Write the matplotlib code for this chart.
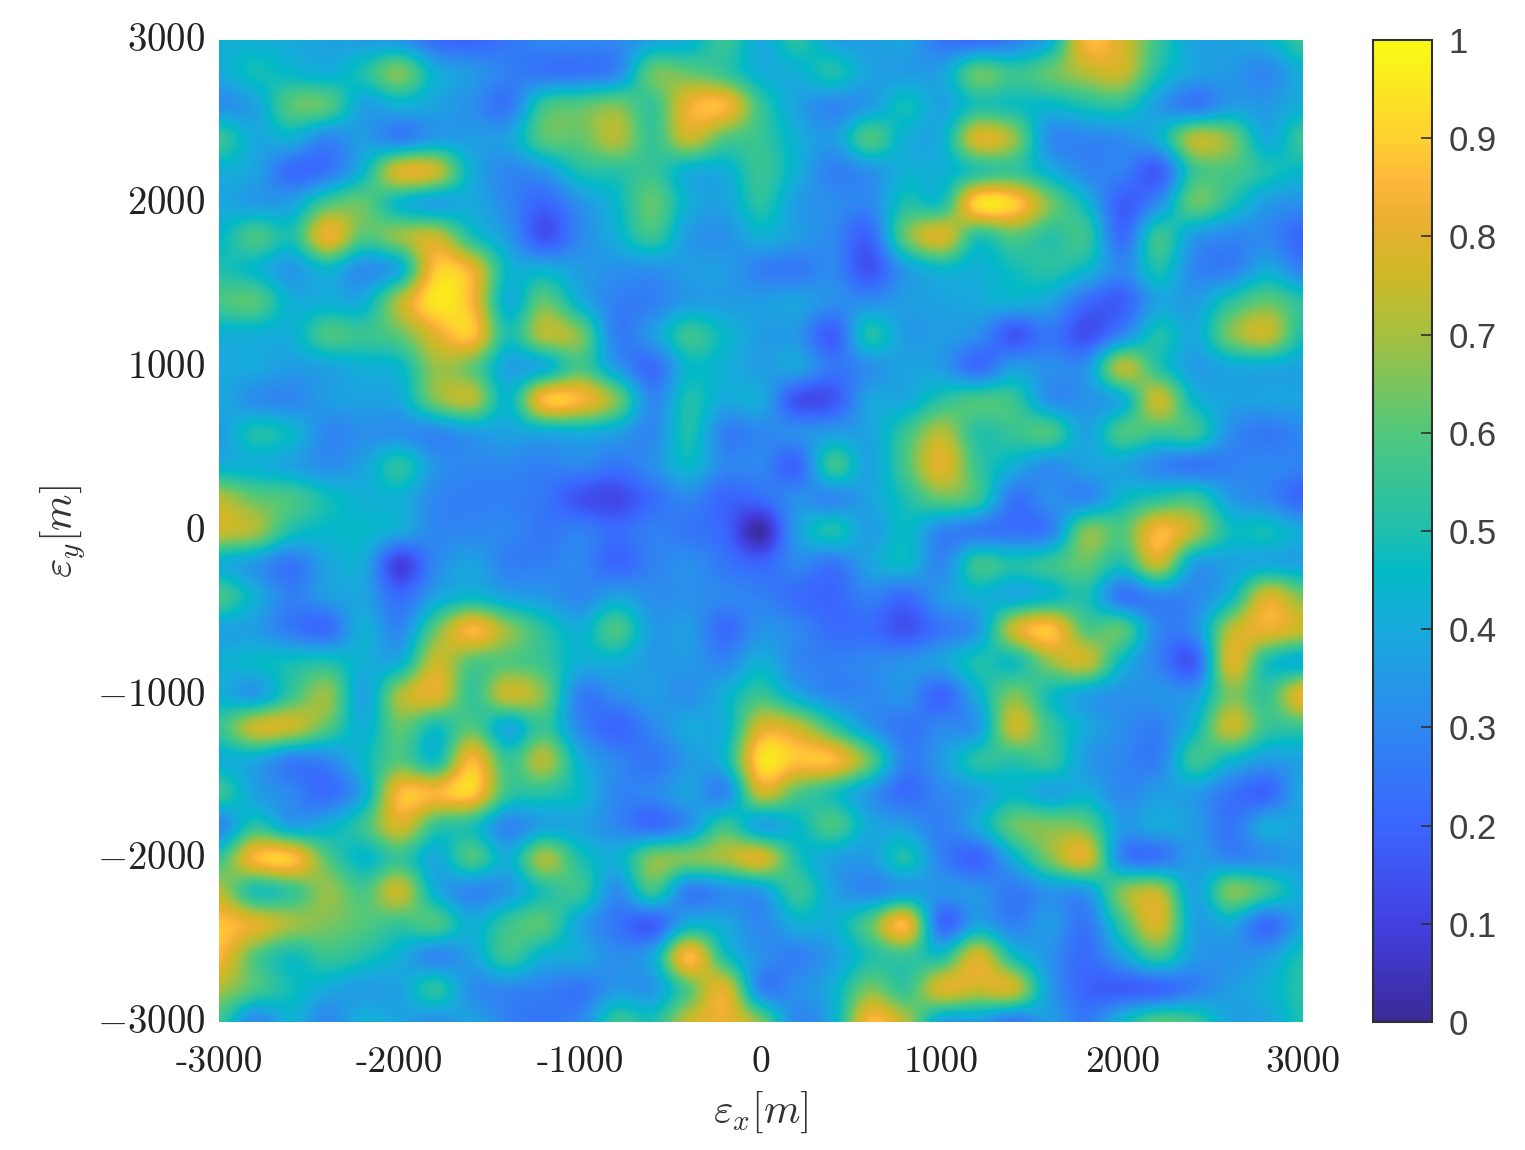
import numpy as np
import matplotlib
matplotlib.use("Agg")
import matplotlib.pyplot as plt
from matplotlib.colors import LinearSegmentedColormap
from matplotlib.transforms import ScaledTranslation

# values, in hundredths, on a 200 m grid, top row is y=3000
rows = [
[42,42,40,38,36,34,22,20,25,30,30,30,38,42,55, 40,52,38,36,38,25,22,28,42,85,78,55,38,38,42,55],
[40,48,45,42,50,65,42,35,28,25,25,30,62,62,55, 42,42,50,38,36,38,62,55,62,72,75,50,38,35,30,42],
[32,38,60,60,38,42,38,32,25,55,60,65,55,82,85, 55,38,30,36,48,38,50,48,45,50,52,36,26,36,35,42],
[55,40,42,30,36,28,36,36,38,60,62,72,55,75,60, 55,42,36,58,42,42,78,68,32,30,32,42,72,65,40,55],
[42,38,22,25,45,78,75,42,30,35,50,52,55,42,42, 55,42,28,33,42,42,52,55,42,30,28,18,55,58,50,45],
[40,36,38,58,62,45,38,40,30,20,33,45,62,42,38, 52,36,32,30,50,50,92,90,65,45,18,32,62,50,36,32],
[45,58,50,82,60,68,75,50,35,15,30,42,55,36,33, 42,36,30,20,62,78,52,60,52,55,22,55,36,30,30,20],
[50,45,35,45,32,42,88,82,45,42,36,33,33,36,36, 28,26,30,15,36,45,42,48,52,45,30,50,30,28,40,28],
[58,60,42,42,42,72,95,85,42,62,42,28,28,36,36, 36,38,32,32,36,38,40,42,38,22,18,38,36,52,62,52],
[42,42,42,58,55,62,80,88,50,72,65,28,36,55,45, 36,34,18,50,36,36,32,16,25,14,30,50,40,65,75,50],
[40,40,36,38,42,45,68,62,38,42,58,36,22,45,42, 36,38,25,32,38,36,22,36,32,34,72,52,36,40,40,38],
[40,32,30,36,38,40,65,72,45,86,85,65,30,50,40, 40,15,16,38,40,52,58,55,33,33,42,75,45,38,38,38],
[36,50,45,30,32,32,30,36,38,40,42,38,30,50,28, 30,32,36,38,55,72,52,55,58,38,58,55,55,32,26,30],
[42,42,38,32,38,52,34,30,30,28,30,25,32,45,30, 30,20,55,38,58,80,55,42,32,38,38,30,25,28,30,28],
[72,62,58,48,42,42,30,28,28,25,15,12,22,30,20, 22,32,30,38,50,62,55,25,32,30,45,52,55,36,30,20],
[75,70,50,45,45,40,30,30,30,25,28,22,28,25,20, 2,36,50,36,46,30,26,24,28,65,60,85,72,48,48,40],
[42,35,25,38,40,10,30,38,28,28,30,20,28,32,25, 20,30,25,38,45,30,55,50,55,62,50,75,38,38,40,38],
[58,42,28,36,38,22,38,45,38,35,30,38,32,32,30, 28,22,20,28,22,35,42,40,45,50,25,30,30,45,78,65],
[38,36,26,22,42,30,62,85,68,52,42,58,36,36,22, 33,30,22,22,15,25,35,75,88,60,60,30,32,72,82,75],
[42,45,48,50,42,42,75,60,60,55,42,42,35,35,30, 42,30,28,30,33,38,50,48,68,75,45,28,18,78,50,42],
[42,36,55,68,38,70,80,55,75,65,28,32,36,32,42, 55,40,30,30,33,20,42,65,48,38,33,34,36,65,55,82],
[55,75,75,60,42,62,48,60,40,55,30,20,30,40,42, 78,75,55,35,25,30,35,75,55,40,32,28,45,75,55,55],
[42,40,28,30,45,60,48,85,55,72,42,30,25,35,45, 93,88,86,62,28,36,52,52,55,36,30,28,55,45,36,38],
[55,38,30,22,40,85,85,90,55,52,45,30,30,38,30, 75,60,50,35,22,30,36,45,38,42,30,36,36,25,20,40],
[30,52,38,42,55,78,55,50,30,38,38,30,22,33,55, 38,45,58,40,36,28,40,62,65,62,36,40,36,25,40,38],
[55,85,88,60,45,55,40,58,42,70,50,42,65,65,70, 78,50,38,36,50,28,20,42,65,78,30,25,36,30,32,36],
[72,50,55,68,58,75,42,30,35,50,55,32,55,28,32, 36,55,38,30,36,34,34,26,34,36,65,72,38,65,55,40],
[88,80,70,65,60,55,58,42,55,60,38,25,18,42,40, 30,42,42,60,85,22,38,28,36,25,55,78,38,40,22,38],
[85,60,48,55,50,42,30,38,55,42,40,32,40,86,50, 33,28,36,50,55,50,78,48,33,22,38,55,36,33,36,50],
[70,58,48,40,36,38,52,32,30,28,25,35,35,60,80, 30,32,42,65,55,78,75,75,36,20,18,20,28,36,42,52],
[55,30,42,30,42,38,32,38,28,25,30,55,50,75,82, 65,30,42,85,72,38,36,25,36,26,45,60,55,38,38,50],
]
x_ticks = [-3000, -2000, -1000, 0, 1000, 2000, 3000]
x_labels = ['-3000', '-2000', '-1000', '0', '1000', '2000', '3000']
y_ticks = [-3000, -2000, -1000, 0, 1000, 2000, 3000]
y_labels = [r'$-3000$', r'$-2000$', r'$-1000$', r'$0$', r'$1000$', r'$2000$', r'$3000$']
cb_ticks = [0, 0.1, 0.2, 0.3, 0.4, 0.5, 0.6, 0.7, 0.8, 0.9, 1]
cb_labels = ['0', '0.1', '0.2', '0.3', '0.4', '0.5', '0.6', '0.7', '0.8', '0.9', '1']

# colours taken from the colorbar
cmap_pos = [0, 0.1, 0.2, 0.3, 0.4, 0.46, 0.5, 0.6, 0.7, 0.76, 0.82, 0.86, 0.9, 1]
cmap_col = ['#3a2a98', '#4340e2', '#3a66ff', '#2e88f0', '#18aadc', '#04bac6', '#1fbfae',
            '#50c87c', '#a5c040', '#cdb928', '#ebb030', '#ffb83c', '#fed030', '#f9fb14']
parula = LinearSegmentedColormap.from_list('parula_like', list(zip(cmap_pos, cmap_col)), N=256)

plt.rcParams['mathtext.fontset'] = 'cm'

W, H = 1525, 1150
fig = plt.figure(figsize=(W / 100, H / 100), dpi=100)
ax = fig.add_axes([219 / W, 1 - 1022 / H, (1303 - 219) / W, (1022 - 40) / H])
cax = fig.add_axes([1373 / W, 1 - 1022 / H, (1432 - 1373) / W, (1022 - 40) / H])

z = np.array(rows) / 100
im = ax.imshow(z, extent=[-3100, 3100, -3100, 3100], origin='upper', cmap=parula, vmin=0, vmax=1,
               interpolation='catrom', aspect='auto')
ax.set_xlim(-3000, 3000)
ax.set_ylim(-3000, 3000)
for s in ax.spines.values():
    s.set_visible(False)
ax.set_xticks(x_ticks)
ax.set_xticklabels(x_labels, family='cmr10', fontsize=27, color='#222222')
ax.set_yticks(y_ticks)
ax.set_yticklabels(y_labels, fontsize=28, color='#222222')
ax.tick_params(axis='x', length=0, pad=17)
ax.tick_params(axis='y', length=0, pad=10)
ax.set_xlabel(r'$\varepsilon_x[m]$', fontsize=30, color='#333333', labelpad=8)
ax.set_ylabel(r'$\varepsilon_y[m]$', fontsize=30, color='#333333', labelpad=6)

# y labels sit a little above their tick in the reference
up = ScaledTranslation(0, 3 / 72, fig.dpi_scale_trans)
for lab in ax.get_yticklabels():
    lab.set_transform(lab.get_transform() + up)

cb = fig.colorbar(im, cax=cax)
cb.set_ticks(cb_ticks)
cb.set_ticklabels(cb_labels, family='Liberation Sans', fontsize=25, color='#404040')
cb.ax.tick_params(direction='in', length=8, width=1.2, color='#303030', pad=12)
cb.outline.set_edgecolor('#303030')
cb.outline.set_linewidth(1.5)

fig.savefig('out.png', dpi=100)
